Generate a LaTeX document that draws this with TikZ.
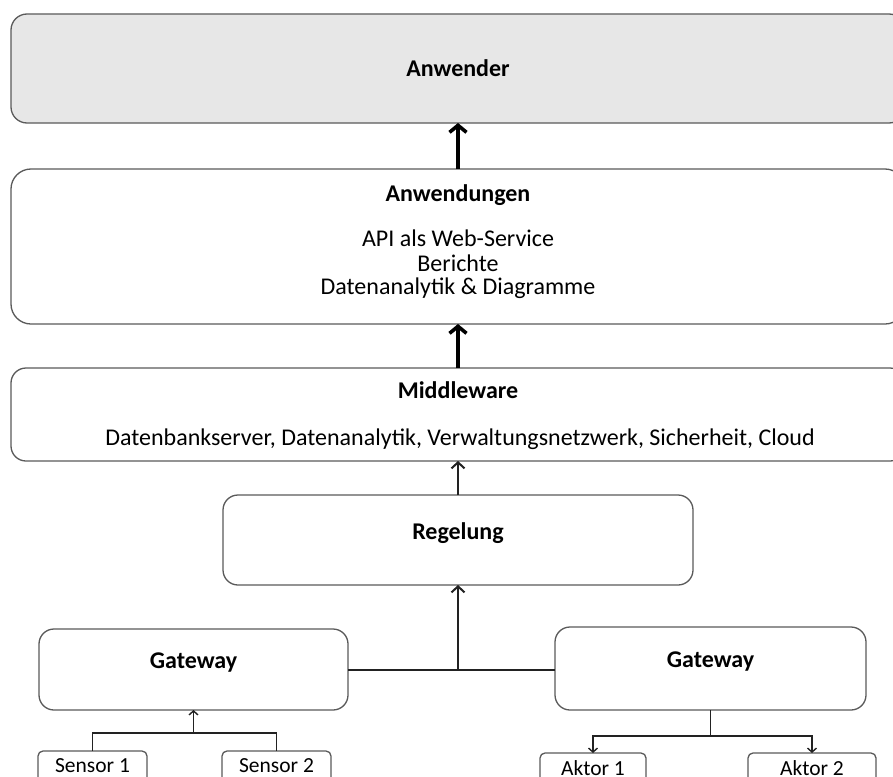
\documentclass[tikz,border=0pt]{standalone}
\usepackage{fontspec}
\setmainfont{Carlito}
\usetikzlibrary{arrows.meta}
\definecolor{boxgray}{HTML}{E7E7E7}
\definecolor{edgegray}{HTML}{5A5A5A}
\definecolor{linecol}{HTML}{222222}
\begin{document}
\begin{tikzpicture}[x=1pt,y=-1pt,
  box/.style={draw=edgegray,line width=1.3pt,rectangle,inner sep=0pt,outer sep=0pt,fill=white},
  bigtxt/.style={font=\fontsize{24}{26}\selectfont,inner sep=0pt,anchor=center},
  boldtxt/.style={font=\fontsize{24}{26}\selectfont\bfseries,inner sep=0pt,anchor=center},
  smalltxt/.style={font=\fontsize{21.5}{24}\selectfont,inner sep=0pt,anchor=center},
  thickarrow/.style={draw=black,line width=3.6pt,-{Straight Barb[length=7pt,width=17pt,line width=3.6pt]}},
  midarrow/.style={draw=linecol,line width=2pt,-{Straight Barb[length=6pt,width=13pt,line width=2pt]}},
  smallarrow/.style={draw=linecol,line width=1.4pt,-{Straight Barb[length=4pt,width=9pt,line width=1.4pt]}},
  conn/.style={draw=linecol,line width=1.4pt},
  connb/.style={draw=linecol,line width=2pt}]
\useasboundingbox (0,0) rectangle (893,776);
\clip (0,0) rectangle (893,776);
\fill[white] (0,0) rectangle (893,776);
% boxes
\node[box,fill=boxgray,rounded corners=16pt,minimum width=894pt,minimum height=109pt] (anwender) at (458,68.5) {};
\node[box,rounded corners=20pt,minimum width=894pt,minimum height=155pt] (anwendungen) at (458,246.5) {};
\node[box,rounded corners=15pt,minimum width=894pt,minimum height=93pt] (middleware) at (458,414.5) {};
\node[box,rounded corners=15pt,minimum width=470pt,minimum height=90pt] (regelung) at (458,540) {};
\node[box,rounded corners=15pt,minimum width=309pt,minimum height=81pt] (gwl) at (193.5,669.5) {};
\node[box,rounded corners=15pt,minimum width=311pt,minimum height=83pt] (gwr) at (710.5,668.5) {};
\node[box,rounded corners=5pt,minimum width=109pt,minimum height=60pt] (s1) at (92.5,781) {};
\node[box,rounded corners=5pt,minimum width=109pt,minimum height=60pt] (s2) at (276.5,781) {};
\node[box,rounded corners=5pt,minimum width=106pt,minimum height=60pt] (a1) at (593,783) {};
\node[box,rounded corners=5pt,minimum width=128pt,minimum height=60pt] (a2) at (812,783) {};
% texts
\node[boldtxt] (t-anwender) at (458,68) {Anwender};
\node[boldtxt] (t-anwendungen) at (458,195) {Anwendungen};
\node[bigtxt] (t-api) at (458,238) {API als Web-Service};
\node[bigtxt] (t-ber) at (458,263) {Berichte};
\node[bigtxt] (t-dat) at (458,288) {Datenanalytik \& Diagramme};
\node[boldtxt] (t-mw) at (458,390) {Middleware};
\node[bigtxt] (t-mw2) at (460,439) {Datenbankserver, Datenanalytik, Verwaltungsnetzwerk, Sicherheit, Cloud};
\node[boldtxt] (t-reg) at (458,533) {Regelung};
\node[boldtxt] (t-gwl) at (193.5,663) {Gateway};
\node[boldtxt] (t-gwr) at (710.5,662) {Gateway};
\node[smalltxt] (t-s1) at (92.5,765.5) {Sensor 1};
\node[smalltxt] (t-s2) at (276.5,765.5) {Sensor 2};
\node[smalltxt] (t-a1) at (593,768) {Aktor 1};
\node[smalltxt] (t-a2) at (812,768) {Aktor 2};
% connectors
\draw[thickarrow] (anwendungen.north) -- (anwender.south);
\draw[thickarrow] (middleware.north) -- (anwendungen.south);
\draw[midarrow] (regelung.north) -- (middleware.south);
\coordinate (jg) at (458,670);
\draw[connb] (gwl.east |- jg) -- (gwr.west |- jg);
\draw[midarrow] (jg) -- (regelung.south);
\coordinate (js) at (193.5,733);
\draw[conn] (s1.north) |- (js) -| (s2.north);
\draw[smallarrow] (js) -- (gwl.south);
\coordinate (ja) at (710.5,736);
\draw[conn] (gwr.south) -- (ja);
\draw[smallarrow] (ja) -| (a1.north);
\draw[smallarrow] (ja) -| (a2.north);
\end{tikzpicture}
\end{document}
